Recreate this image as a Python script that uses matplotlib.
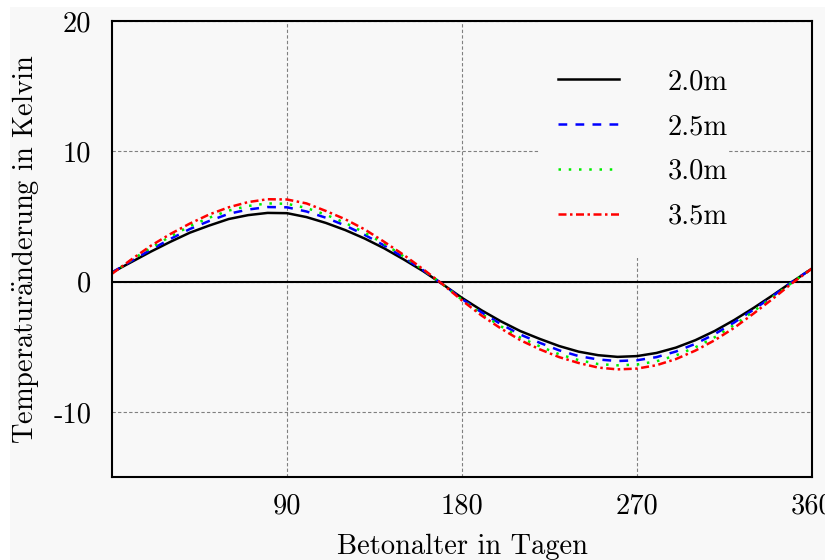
import matplotlib
matplotlib.use("Agg")
import matplotlib.pyplot as plt
from matplotlib.patches import Rectangle

plt.rcParams['font.family'] = ['cmr10', 'DejaVu Serif']
plt.rcParams['mathtext.fontset'] = 'cm'
plt.rcParams['axes.formatter.use_mathtext'] = True

# ---- data ----
days = [0, 10, 20, 30, 40, 50, 60, 70, 80, 90, 100, 110, 120, 130, 140, 150, 160, 170, 180,
        190, 200, 210, 220, 230, 240, 250, 260, 270, 280, 290, 300, 310, 320, 330, 340, 350, 360]

t_20 = [0.7, 1.5, 2.3, 3.05, 3.75, 4.3, 4.8, 5.1, 5.27, 5.25, 4.95, 4.5, 3.95, 3.3, 2.55, 1.7, 0.8, -0.2, -1.25,
        -2.2, -3.05, -3.8, -4.4, -4.95, -5.38, -5.65, -5.78, -5.72, -5.48, -5.07, -4.5, -3.79, -2.95, -2.02, -1.03, 0.0, 1.0]
t_25 = [0.7, 1.58, 2.45, 3.27, 4.03, 4.65, 5.2, 5.53, 5.72, 5.7, 5.38, 4.9, 4.3, 3.58, 2.77, 1.85, 0.87, -0.2, -1.34,
        -2.36, -3.27, -4.07, -4.7, -5.28, -5.72, -5.98, -6.1, -6.04, -5.8, -5.37, -4.78, -4.03, -3.14, -2.15, -1.1, 0.0, 1.0]
t_30 = [0.65, 1.65, 2.6, 3.45, 4.25, 4.9, 5.45, 5.8, 6.0, 5.97, 5.65, 5.13, 4.5, 3.75, 2.9, 1.93, 0.9, -0.2, -1.4,
        -2.48, -3.43, -4.3, -4.97, -5.58, -6.03, -6.33, -6.43, -6.37, -6.12, -5.67, -5.05, -4.27, -3.33, -2.28, -1.17, -0.05, 1.0]
t_35 = [0.6, 1.7, 2.75, 3.65, 4.45, 5.15, 5.7, 6.1, 6.32, 6.3, 6.0, 5.42, 4.78, 4.0, 3.05, 2.05, 0.95, -0.2, -1.45,
        -2.6, -3.6, -4.5, -5.2, -5.8, -6.25, -6.6, -6.74, -6.68, -6.42, -5.95, -5.3, -4.5, -3.55, -2.45, -1.3, -0.1, 1.0]

labels = ['2.0m', '2.5m', '3.0m', '3.5m']
xticks = [90, 180, 270, 360]
xtick_labels = ['90', '180', '270', '360']
yticks = [20, 10, 0, -10]
ytick_labels = ['20', '10', '0', '-10']

BG = '#f8f8f8'
FS = 20.5

fig = plt.figure(figsize=(8.25, 5.6), dpi=100, facecolor='white')
fig.patches.append(Rectangle((10 / 825, 0), 1, (560 - 7) / 560, transform=fig.transFigure,
                             facecolor=BG, edgecolor='none', zorder=-10))
ax = fig.add_axes([112 / 825, (560 - 477) / 560, 700 / 825, 456 / 560])
ax.set_facecolor(BG)

ax.set_xlim(0, 360)
ax.set_ylim(-15, 20)

ax.grid(True, color='#808080', linestyle=(0, (3, 2)), linewidth=0.8, zorder=0)
ax.set_axisbelow(True)
ax.axhline(0, color='black', linewidth=1.5, zorder=1)

# background box of the key (hides the grid)
ax.add_patch(Rectangle((0.611, 0.48), 0.27, 0.53, transform=ax.transAxes,
                       facecolor=BG, edgecolor='none', zorder=1.5, clip_on=True))

lw = 1.8
ax.plot(days, t_20, color='black', linewidth=lw, linestyle='-', label=labels[0], zorder=3)
ax.plot(days, t_25, color='#0000ff', linewidth=lw, linestyle=(0, (3.5, 3.3)), label=labels[1], zorder=3)
ax.plot(days, t_30, color='#00ee00', linewidth=lw, linestyle=(0, (1, 3.1)), label=labels[2], zorder=3)
ax.plot(days, t_35, color='#ff0000', linewidth=lw, linestyle=(0, (3.2, 1.4, 1, 1.4)), label=labels[3], zorder=3)

ax.set_xticks(xticks)
ax.set_xticklabels(xtick_labels)
ax.set_yticks(yticks)
ax.set_yticklabels(ytick_labels)
ax.tick_params(axis='both', length=0, labelsize=FS)
ax.tick_params(axis='x', pad=12)
ax.tick_params(axis='y', pad=15)

for s in ax.spines.values():
    s.set_linewidth(1.5)
    s.set_color('black')
    s.set_zorder(4)

ax.set_xlabel('Betonalter in Tagen', fontsize=FS, labelpad=9.5)
ax.set_ylabel(r'Temperatur$\ddot{\mathrm{a}}$nderung in Kelvin', fontsize=FS, labelpad=9)

leg = ax.legend(loc='upper left', bbox_to_anchor=(0.637, 0.895), frameon=False,
                fontsize=FS, handlelength=2.14, handletextpad=1.72, labelspacing=0.65,
                borderpad=0, borderaxespad=0)
leg.set_zorder(5)

fig.savefig('out.png', dpi=100, facecolor=fig.get_facecolor())
